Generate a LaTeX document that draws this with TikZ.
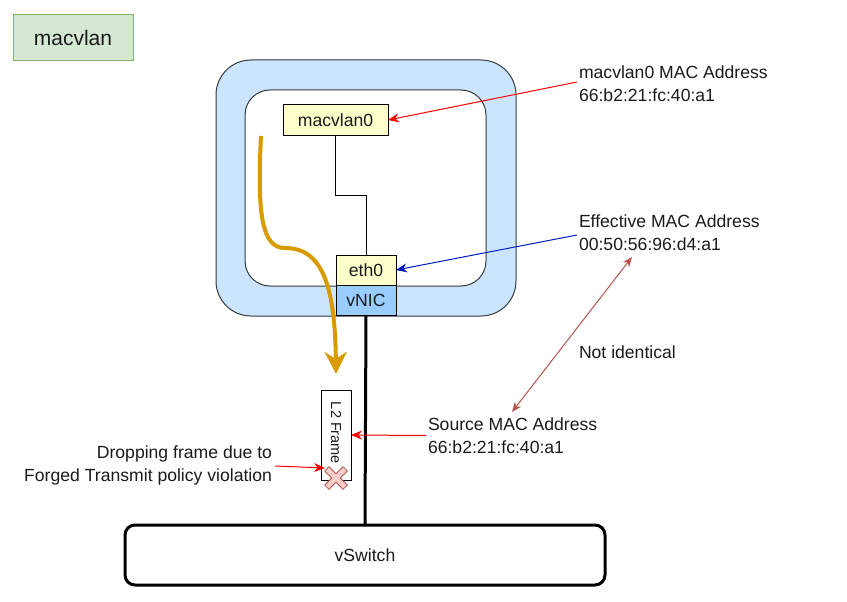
\documentclass[tikz,border=0pt]{standalone}
\usepackage{fontspec}
\setmainfont{Liberation Sans}
\usetikzlibrary{arrows.meta}
\definecolor{txt}{HTML}{1A1A1A}
\definecolor{greenfill}{HTML}{D5E8D4}
\definecolor{greenline}{HTML}{82B366}
\definecolor{bluefill}{HTML}{CCE5FF}
\definecolor{grayline}{HTML}{36393D}
\definecolor{yellowfill}{HTML}{FFFFCC}
\definecolor{nicfill}{HTML}{99CCFF}
\definecolor{orange}{HTML}{D79B00}
\definecolor{redfill}{HTML}{F8CECC}
\definecolor{redline}{HTML}{B85450}
\definecolor{darkblue}{HTML}{001DBC}
\tikzset{
  x=1pt, y=-1pt,
  every node/.style={inner sep=0pt, outer sep=0pt, text=txt, font=\fontsize{17.6}{22.5}\selectfont},
  smallbox/.style={draw=black, line width=1pt, fill=yellowfill, minimum width=#1, minimum height=30pt},
  lbl/.style={anchor=west, align=left},
  redarrow/.style={draw=red, line width=1pt, -{Stealth[length=11pt,width=9pt]}},
}
\begin{document}
\begin{tikzpicture}
\useasboundingbox (0,0) rectangle (847,602);
% title
\node[draw=greenline, fill=greenfill, line width=1pt, minimum width=120pt, minimum height=46pt,
      font=\fontsize{21}{25}\selectfont] (title) at (73,38) {macvlan};
% host boxes
\node[draw=grayline, fill=bluefill, line width=1pt, rounded corners=35pt, minimum width=300pt, minimum height=256pt] (outer) at (366,188) {};
\node[draw=grayline, fill=white, line width=1pt, rounded corners=25pt, minimum width=241pt, minimum height=196pt] (inner) at (365.5,188) {};
\node[smallbox=105pt] (mv0) at (335.5,120) {macvlan0};
\node[smallbox=60pt] (eth0) at (366,270) {eth0};
\node[draw=black, line width=1pt, fill=nicfill, minimum width=60pt, minimum height=30pt] (vnic) at (366,300) {vNIC};
% vswitch
\node[draw=black, line width=3pt, fill=white, rounded corners=10pt, minimum width=480pt, minimum height=60pt] (vsw) at (365,555) {vSwitch};
% L2 frame
\node[draw=black, line width=1pt, fill=white, minimum width=30pt, minimum height=90pt] (l2) at (336,435) {};
\node[rotate=-90, font=\fontsize{14.5}{17}\selectfont] (l2t) at (336,433) {L2 Frame};
% connectors
\draw[line width=1pt] (mv0.south) -- (335.5,195.5) -- (366,195.5) -- (eth0.north);
\draw[line width=3pt] (vnic.south) -- (vsw.north);
% cross
\begin{scope}[shift={(336,478)}, rotate=45]
\filldraw[fill=redfill, draw=redline, line width=0.8pt]
  (3,13) -- (3,3) -- (13,3) -- (13,-3) -- (3,-3) -- (3,-13) -- (-3,-13) -- (-3,-3) -- (-13,-3) -- (-13,3) -- (-3,3) -- (-3,13) -- cycle;
\end{scope}
\coordinate (xc) at (325,468);
% orange path
\coordinate (ostart) at (261,136);
\coordinate (oend) at (336,374);
\draw[orange, line width=4pt, -{Stealth[length=22pt,width=22pt,inset=7pt]}]
  (ostart) .. controls (257,215) and (262,248) .. (285,248)
  .. controls (322,248) and (335,285) .. (oend);
% labels
\node[lbl] (lmv) at (579,83.5) {macvlan0 MAC Address\\66:b2:21:fc:40:a1};
\node[lbl] (leff) at (579,232.5) {Effective MAC Address\\00:50:56:96:d4:a1};
\node[lbl] (lni) at (579,352) {Not identical};
\node[lbl] (lsrc) at (428,435.5) {Source MAC Address\\66:b2:21:fc:40:a1};
\node[anchor=east, align=right] (ldrop) at (272,465.5) {Dropping frame due to\\Forged Transmit policy violation};
% arrows
\coordinate (a1) at (577,82);
\draw[redarrow] (a1) -- (mv0.east);
\coordinate (a2) at (577,235);
\draw[draw=darkblue, line width=1pt, -{Stealth[length=11pt,width=9pt]}] (a2) -- (eth0.east);
\draw[redarrow] (lsrc.west) ++(-2,0) coordinate (a3) -- (l2.east);
\coordinate (a4) at (275,466);
\draw[redarrow] (a4) -- (xc);
\coordinate (d1) at (632,257);
\coordinate (d2) at (512,412);
\draw[draw=redline, line width=1pt, {Stealth[length=10pt,width=8pt]}-{Stealth[length=10pt,width=8pt]}] (d1) -- (d2);
\end{tikzpicture}
\end{document}
